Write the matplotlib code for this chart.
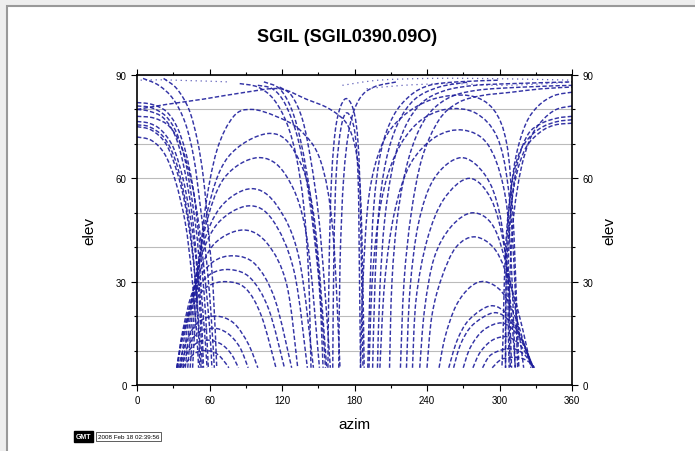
import matplotlib
matplotlib.use("Agg")
import numpy as np
import matplotlib.pyplot as plt
from matplotlib.patches import Rectangle, PathPatch
from matplotlib.path import Path
from matplotlib.ticker import MultipleLocator

# Satellite sky tracks (azimuth deg, elevation deg)
LEFT_FALLS = [
    [(0, 82), (12, 81.5), (24, 79.5), (33, 75), (40, 68), (46, 58), (50, 47), (54, 33), (57, 19), (59, 5)],
    [(0, 81), (12, 80.5), (24, 78), (33, 73), (40, 65), (45, 55), (50, 42), (53, 28), (56, 15), (58, 5)],
    [(0, 80), (10, 79.5), (22, 77.5), (32, 72), (39, 63), (45, 51), (49, 38), (53, 22), (55, 5)],
    [(0, 76.5), (10, 76), (20, 74), (30, 69), (38, 60), (44, 49), (49, 36), (52, 22), (54, 5)],
    [(0, 75.5), (10, 75), (22, 72), (31, 66), (38, 57), (44, 45), (48, 32), (51, 18), (53, 5)],
    [(0, 75), (12, 74), (24, 70), (33, 62), (40, 52), (46, 38), (50, 22), (52, 5)],
    [(0, 72), (12, 71), (23, 67), (32, 59), (40, 47), (45, 33), (49, 17), (51, 5)],
    [(0, 78), (14, 77.5), (27, 75), (37, 69), (45, 59), (51, 47), (56, 32), (60, 17), (62, 5)],
    [(5, 89), (18, 87), (30, 83), (40, 76), (47, 66), (52, 53), (57, 38), (61, 22), (64, 5)],
    [(22, 89), (33, 86), (43, 80), (50, 71), (55, 60), (59, 45), (63, 28), (66, 5)],
]

LEFT_ARCHES = [
    [(38, 5), (44, 8), (50, 9.6), (57, 10), (64, 9.5), (70, 7.8), (76, 5)],
    [(36, 5), (42, 9.5), (50, 12.3), (60, 13), (70, 11.8), (78, 9), (84, 5)],
    [(35, 5), (41, 10.5), (50, 15), (63, 16.5), (75, 15), (85, 11), (92, 5)],
    [(34, 5), (40, 12), (50, 18), (65, 20), (80, 18), (92, 12), (100, 5)],
    [(33, 5), (38, 14), (46, 23), (58, 28.5), (74, 30), (90, 28), (103, 20), (115, 5)],
    [(33, 5), (38, 15), (47, 26), (60, 32), (77, 33.5), (94, 31), (109, 22), (122, 5)],
    [(33, 5), (38, 16), (47, 28), (62, 35.5), (80, 37.5), (98, 35), (114, 25), (128, 5)],
    [(36, 5), (41, 18), (50, 31), (64, 41), (88, 45), (108, 41), (124, 29), (133, 5)],
    [(38, 5), (43, 20), (52, 36), (67, 47), (92, 52), (112, 48), (130, 33), (141, 5)],
    [(40, 5), (45, 22), (54, 40), (70, 52), (95, 57), (116, 52), (134, 37), (146, 5)],
    [(42, 5), (47, 25), (56, 45), (72, 60), (100, 66), (123, 61), (140, 44), (151, 5)],
    [(44, 5), (49, 28), (58, 50), (75, 66), (108, 73), (130, 68), (146, 50), (157, 5)],
    [(46, 5), (50, 28), (56, 50), (66, 68), (80, 78), (95, 80), (115, 78), (135, 74),
     (152, 65), (162, 45), (168, 5)],
    [(0, 80), (25, 81.5), (55, 83), (90, 85), (118, 86), (140, 83), (160, 80), (175, 75),
     (183, 64), (186, 45), (188, 5)],
]

MID_TRACKS = [
    [(85, 87.5), (100, 86.5), (113, 83), (124, 76), (132, 66), (138, 52), (142, 32), (144, 5)],
    [(100, 87), (112, 86), (122, 82), (132, 73), (140, 60), (146, 45), (151, 28), (154, 5)],
    [(105, 88), (118, 86), (128, 80), (136, 70), (143, 56), (149, 38), (153, 20), (156, 5)],
    [(118, 86.5), (128, 84), (137, 77), (144, 65), (150, 50), (155, 30), (160, 5)],
    [(158, 5), (159, 35), (161, 60), (165, 76), (172, 83), (179, 80), (183, 70), (185, 50), (187, 5)],
    [(162, 5), (163, 40), (165, 62), (169, 75), (174, 79), (180, 74), (183, 60), (184, 35), (185, 5)],
    [(167, 5), (168, 35), (171, 60), (176, 75), (184, 83), (196, 86.5), (215, 88)],
    [(191, 5), (193, 30), (196, 52), (202, 68), (212, 78), (226, 84), (242, 87), (265, 88), (300, 88.5)],
    [(195, 5), (197, 30), (200, 50), (206, 65), (216, 76), (230, 83), (250, 86.5), (275, 88)],
    [(199, 5), (201, 28), (205, 48), (212, 64), (222, 75), (236, 82), (255, 85.5), (280, 87),
     (310, 87.5), (360, 88)],
    [(209, 5), (211, 30), (216, 50), (225, 66), (238, 77), (256, 83), (280, 85.5), (320, 86.5), (360, 87)],
    [(218, 5), (221, 30), (227, 50), (236, 66), (250, 77), (266, 82), (285, 84), (310, 85),
     (335, 86), (360, 86.5)],
]

RIGHT_ARCHES = [
    [(185, 5), (187, 30), (192, 55), (203, 70), (220, 78), (245, 83), (275, 84), (295, 80),
     (306, 70), (311, 50), (314, 25), (316, 5)],
    [(192, 5), (195, 32), (202, 53), (214, 67), (232, 76), (255, 80), (280, 79), (298, 72),
     (307, 58), (312, 35), (315, 5)],
    [(201, 5), (205, 30), (213, 50), (226, 64), (247, 72), (270, 74), (290, 70), (303, 58),
     (309, 40), (313, 5)],
    [(223, 5), (226, 28), (233, 47), (246, 60), (268, 66), (288, 61), (300, 50), (307, 30), (310, 5)],
    [(228, 5), (231, 25), (240, 42), (254, 54), (275, 60), (293, 54), (304, 40), (310, 20), (313, 5)],
    [(234, 5), (238, 22), (246, 37), (260, 46), (278, 50), (295, 46), (307, 33), (315, 18), (320, 5)],
    [(240, 5), (244, 20), (252, 31), (264, 40), (280, 43), (297, 39), (310, 28), (320, 15), (326, 5)],
    [(250, 5), (255, 14), (264, 23), (276, 28.5), (288, 30), (302, 27), (314, 19), (322, 10), (328, 5)],
    [(258, 5), (265, 13), (275, 19), (293, 23), (308, 20), (319, 13), (327, 5)],
    [(262, 5), (268, 12), (278, 17.5), (296, 21), (310, 18), (320, 12), (328, 5)],
    [(270, 5), (276, 11), (287, 16), (302, 18), (314, 15), (322, 10), (328, 5)],
    [(278, 5), (284, 9.5), (294, 13), (306, 14), (316, 12), (323, 8.5), (328, 5)],
    [(286, 5), (292, 8.5), (302, 10.2), (312, 10.5), (320, 9), (326, 6.5), (329, 5)],
    [(294, 5), (302, 7.5), (315, 8), (324, 6.8), (328, 5)],
]

RIGHT_FALLS = [
    [(360, 77), (348, 76.5), (336, 75), (325, 72), (316, 67), (310, 58), (306, 45), (304, 30), (303, 15), (302, 5)],
    [(360, 76), (346, 75.5), (334, 73.5), (322, 69), (314, 61), (309, 50), (306, 35), (305, 20), (305, 5)],
    [(360, 78), (348, 77.5), (335, 76), (324, 73), (316, 66), (311, 56), (308, 42), (307, 25), (308, 5)],
    [(360, 81), (347, 80), (336, 77), (326, 72), (318, 63), (312, 50), (309, 35), (308, 18), (309, 5)],
    [(360, 85), (345, 84), (332, 81), (322, 76), (314, 67), (309, 55), (306, 40), (305, 5)],
]

TOP_DOTS = [
    [(3, 88.5), (20, 88.6), (40, 88.4), (60, 88.2), (75, 88)],
    [(170, 87), (200, 88.5), (240, 89), (280, 89), (320, 88.8), (360, 88.5)],
    [(190, 86), (220, 87), (260, 87.5), (300, 87), (340, 87.5), (360, 88)],
]

TITLE = "SGIL (SGIL0390.09O)"
XTICKS = [0, 60, 120, 180, 240, 300, 360]
YTICKS = [0, 30, 60, 90]
STAMP = "2008 Feb 18 02:39:56"

TRACK_COLOR = "#1e1e9c"


def smooth_path(points):
    """Cubic Bezier path passing through the given points (Catmull-Rom handles)."""
    p = np.asarray(points, dtype=float)
    verts = [p[0]]
    codes = [Path.MOVETO]
    n = len(p)
    for i in range(n - 1):
        p0 = p[i - 1] if i > 0 else p[i]
        p3 = p[i + 2] if i + 2 < n else p[i + 1]
        c1 = p[i] + (p[i + 1] - p0) / 6.0
        c2 = p[i + 1] - (p3 - p[i]) / 6.0
        verts += [c1, c2, p[i + 1]]
        codes += [Path.CURVE4] * 3
    return Path(verts, codes)


fig = plt.figure(figsize=(6.95, 4.52), dpi=100)
fig.patch.set_facecolor("white")

# outer page frame
fig.add_artist(Rectangle((0, 0), 1, 1, transform=fig.transFigure,
                         facecolor="#eeeeee", edgecolor="none", zorder=-3))
fig.add_artist(Rectangle((7 / 695, -0.1), 1.0, 1.1 - 7 / 452,
                         transform=fig.transFigure, facecolor="white",
                         edgecolor="#999999", linewidth=1.5, zorder=-2))

ax = fig.add_axes([137 / 695, 66 / 452, 435 / 695, 310 / 452])

for group in (LEFT_FALLS, LEFT_ARCHES, MID_TRACKS, RIGHT_ARCHES, RIGHT_FALLS):
    for track in group:
        ax.add_patch(PathPatch(smooth_path(track), fill=False, edgecolor=TRACK_COLOR,
                               linewidth=1.05, linestyle=(0, (3, 1.5)), alpha=0.9))

for track in TOP_DOTS:
    ax.add_patch(PathPatch(smooth_path(track), fill=False, edgecolor=TRACK_COLOR,
                           linewidth=0.9, linestyle=(0, (1, 3)), alpha=0.7))

ax.set_xlim(0, 360)
ax.set_ylim(0, 90)
ax.set_xticks(XTICKS)
ax.set_yticks(YTICKS)
ax.xaxis.set_minor_locator(MultipleLocator(30))
ax.yaxis.set_minor_locator(MultipleLocator(10))
ax.grid(axis="y", which="both", color="#bbbbbb", linewidth=0.8)
ax.set_axisbelow(True)

ax.tick_params(which="both", direction="out", top=True, right=True,
               labelright=True, labelsize=7, width=0.8)
ax.tick_params(which="major", length=4)
ax.tick_params(which="minor", length=2)
for sp in ax.spines.values():
    sp.set_linewidth(1.2)

font = "Liberation Sans"
for lab in ax.get_xticklabels() + ax.get_yticklabels():
    lab.set_family(font)

ax.set_xlabel("azim", fontsize=11, family=font, labelpad=8)
ax.set_ylabel("elev", fontsize=11, family=font, labelpad=14)
ax2 = ax.secondary_yaxis("right")
ax2.set_yticks([])
ax2.set_ylabel("elev", fontsize=11, family=font, labelpad=22)
ax2.spines["right"].set_visible(False)

fig.text(0.5, 1 - 37 / 452, TITLE, ha="center", va="center",
         fontsize=13, family=font, fontweight="bold")

# GMT time stamp
fig.text(76 / 695, 1 - 437.5 / 452, "GMT", fontsize=5, color="white",
         family=font, fontweight="bold", va="center",
         bbox=dict(boxstyle="square,pad=0.25", facecolor="black", edgecolor="black"))
fig.text(98 / 695, 1 - 437.5 / 452, STAMP, fontsize=4.5, color="black",
         family=font, va="center",
         bbox=dict(boxstyle="square,pad=0.3", facecolor="white", edgecolor="#444444",
                   linewidth=0.6))

fig.savefig("out.png", dpi=100)
